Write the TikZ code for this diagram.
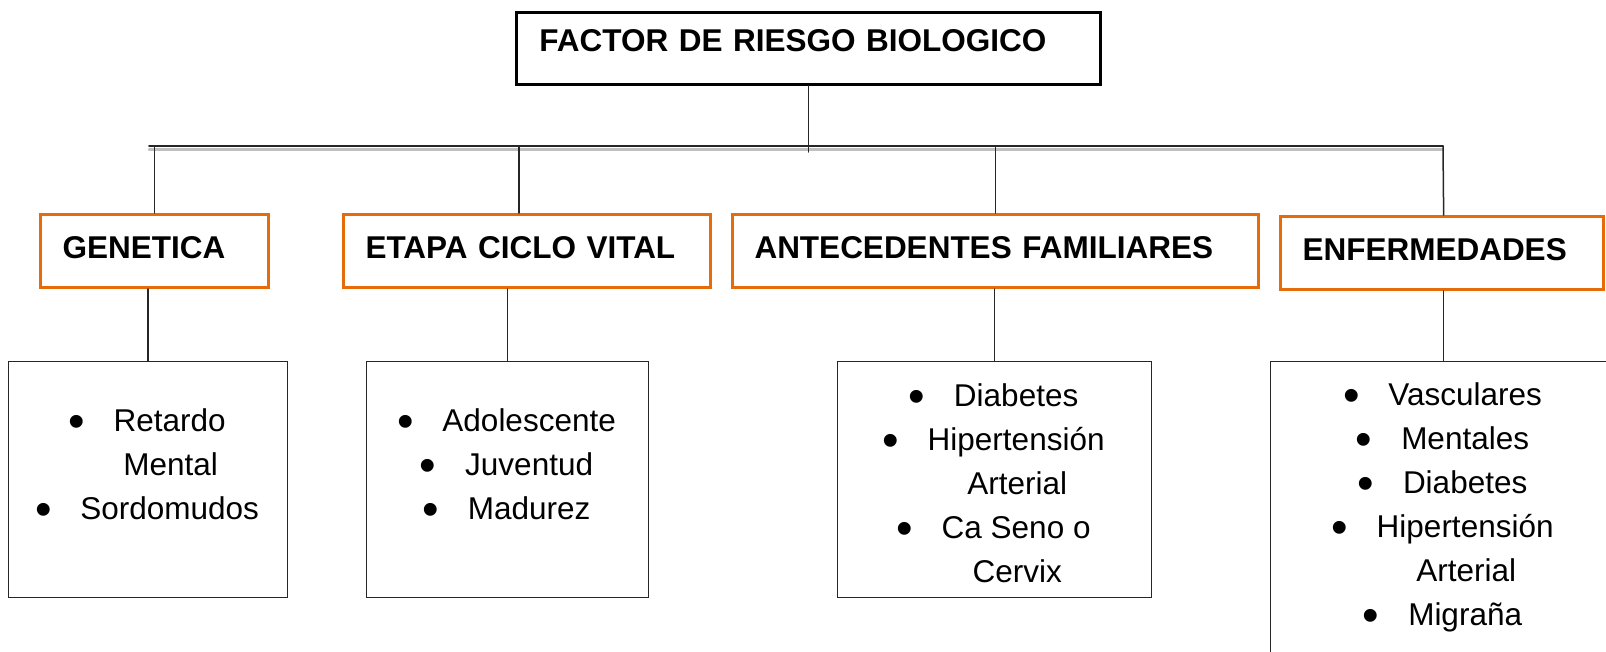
\documentclass[tikz,border=0pt]{standalone}
\usepackage{fontspec}
\setmainfont{Liberation Sans}
\usetikzlibrary{positioning}
\definecolor{riskorange}{RGB}{228,108,10}
\newcommand{\bul}[1]{\makebox[12pt]{\raisebox{-6pt}{\scalebox{1.5}{\textbullet}}}\hspace{31pt}#1}
\newcommand{\cont}[1]{\hspace*{45pt}#1}

\begin{document}
\begin{tikzpicture}[x=1pt, y=-1pt, line cap=round,
  link/.style={line width=1.5pt, black!85},
  factorbox/.style={draw, line width=2.8pt, anchor=north west, inner xsep=23pt, align=left,
    text width=538pt, minimum height=72pt, text height=22pt, text depth=16pt,
    font=\fontsize{31.5}{38}\selectfont\bfseries},
  orangebox/.style={draw=riskorange, line width=3pt, anchor=north west, inner xsep=22pt, align=left,
    minimum height=73pt, text height=22pt, text depth=7pt, font=\fontsize{31.5}{38}\selectfont\bfseries},
  listbox/.style={draw=black!85, line width=1.3pt, anchor=north west, inner sep=0pt, minimum height=236pt},
  items/.style={align=center, inner sep=0pt, font=\fontsize{31.5}{44}\selectfont}]
\useasboundingbox (0,0) rectangle (1606,651);
\clip (0,0) rectangle (1606,651);

\node [factorbox] (factor) at (515,11) {FACTOR DE RIESGO BIOLOGICO};

\node [orangebox, text width=184pt] (genetica) at (39,213) {GENETICA};
\node [orangebox, text width=323pt] (etapa) at (342,213) {ETAPA CICLO VITAL};
\node [orangebox, text width=482pt] (antecedentes) at (731,213) {ANTECEDENTES FAMILIARES};
\node [orangebox, text width=279pt] (enfermedades) at (1279,215) {ENFERMEDADES};

\node [listbox, minimum width=279pt] (genetica-list) at (8,361) {};
\node [listbox, minimum width=282pt] (etapa-list) at (366,361) {};
\node [listbox, minimum width=314pt] (antecedentes-list) at (837,361) {};
\node [listbox, minimum width=346pt, minimum height=400pt] (enfermedades-list) at (1270,361) {};

% double line under the title
\coordinate (bus-left) at (149,146);
\coordinate (bus-right) at (1443,146);
\draw [link, line width=1.6pt] (bus-left) -- (bus-right);
\draw [line width=2.5pt, black!25] ([yshift=-3.5pt]bus-left) -- ([yshift=-3.5pt]bus-right);

\draw [link] (factor.south) -- ([yshift=-6pt]factor.south |- bus-left);
\draw [link] (genetica.north) -- (genetica.north |- bus-left);
\draw [link] ([xshift=-8pt]etapa.north) -- ([xshift=-8pt]etapa.north |- bus-left);
\draw [link] (antecedentes.north) -- (antecedentes.north |- bus-left);
\draw [link] (enfermedades.north -| enfermedades-list.north) -- (bus-right);
\foreach \n in {genetica, etapa, antecedentes, enfermedades}
  \draw [link] (\n.south -| \n-list.north) -- (\n-list.north);

\node [items, below=47pt of genetica-list.north] (genetica-items)
  {\bul{Retardo}\\ \cont{Mental}\\ \bul{Sordomudos}};
\node [items, below=47pt of etapa-list.north] (etapa-items)
  {\bul{Adolescente}\\ \bul{Juventud}\\ \bul{Madurez}};
\node [items, below=22pt of antecedentes-list.north] (antecedentes-items)
  {\bul{Diabetes}\\ \bul{Hipertensión}\\ \cont{Arterial}\\ \bul{Ca Seno o}\\ \cont{Cervix}};
\node [items, below=21pt of enfermedades-list.north] (enfermedades-items)
  {\bul{Vasculares}\\ \bul{Mentales}\\ \bul{Diabetes}\\ \bul{Hipertensión}\\ \cont{Arterial}\\ \bul{Migraña}};
\end{tikzpicture}
\end{document}
